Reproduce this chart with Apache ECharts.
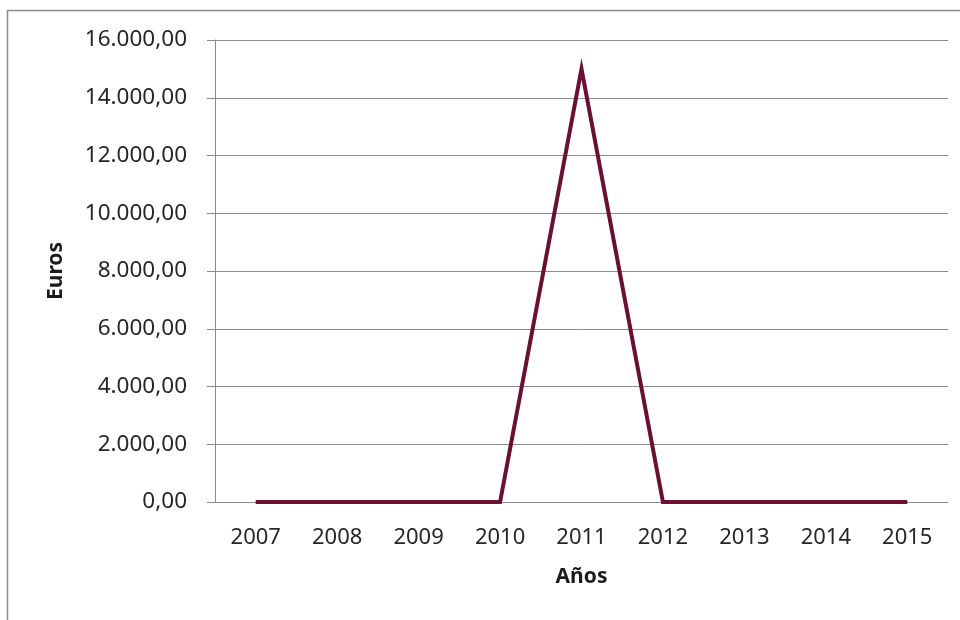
<!DOCTYPE html>
<html>
<head>
<meta charset="utf-8">
<script src="https://cdn.jsdelivr.net/npm/echarts@6/dist/echarts.min.js"></script>
<style>
html,body{margin:0;padding:0;background:#fff;}
#chart{width:960px;height:620px;}
</style>
</head>
<body>
<div id="chart"></div>
<script>
var years = ['2007','2008','2009','2010','2011','2012','2013','2014','2015'];
var euros = [0, 0, 0, 0, 15000, 0, 0, 0, 0];
var yTicks = [0, 2000, 4000, 6000, 8000, 10000, 12000, 14000, 16000];

function fmt(v) {
  var parts = Math.abs(v).toFixed(2).split('.');
  var intPart = parts[0].replace(/\B(?=(\d{3})+(?!\d))/g, '.');
  return (v < 0 ? '-' : '') + intPart + ',' + parts[1];
}

var chart = echarts.init(document.getElementById('chart'), null, {renderer: 'canvas'});
var font = '"Noto Sans", "Open Sans", sans-serif';
chart.setOption({
  animation: false,
  backgroundColor: '#ffffff',
  graphic: [{
    type: 'rect',
    shape: {x: 7.5, y: 10.5, width: 1200, height: 1200},
    style: {fill: 'none', stroke: '#8c8c8c', lineWidth: 1.5},
    silent: true
  }],
  grid: {left: 215, top: 40, width: 733, height: 462, containLabel: false},
  xAxis: {
    type: 'category',
    data: years,
    boundaryGap: true,
    axisLine: {show: true, lineStyle: {color: '#8c8c8c', width: 1}},
    axisTick: {show: false},
    axisLabel: {color: '#262626', fontFamily: font, fontSize: 22, margin: 25},
    name: 'Años',
    nameLocation: 'middle',
    nameGap: 65,
    nameTextStyle: {color: '#1a1a1a', fontFamily: font, fontSize: 21, fontWeight: 'bold'}
  },
  yAxis: {
    type: 'value',
    min: yTicks[0],
    max: yTicks[yTicks.length - 1],
    interval: yTicks[1] - yTicks[0],
    axisLine: {show: true, lineStyle: {color: '#8c8c8c', width: 1}},
    axisTick: {show: true, length: 8, lineStyle: {color: '#8c8c8c'}},
    splitLine: {show: true, lineStyle: {color: '#8c8c8c', width: 1}},
    axisLabel: {color: '#262626', fontFamily: font, fontSize: 22.5, margin: 28, formatter: fmt},
    name: 'Euros',
    nameLocation: 'middle',
    nameGap: 148,
    nameTextStyle: {color: '#1a1a1a', fontFamily: font, fontSize: 21, fontWeight: 'bold'}
  },
  series: [{
    type: 'line',
    data: euros,
    showSymbol: false,
    symbol: 'none',
    lineStyle: {color: '#6a1037', width: 4, join: 'miter'},
    itemStyle: {color: '#6a1037'}
  }]
});
</script>
</body>
</html>
